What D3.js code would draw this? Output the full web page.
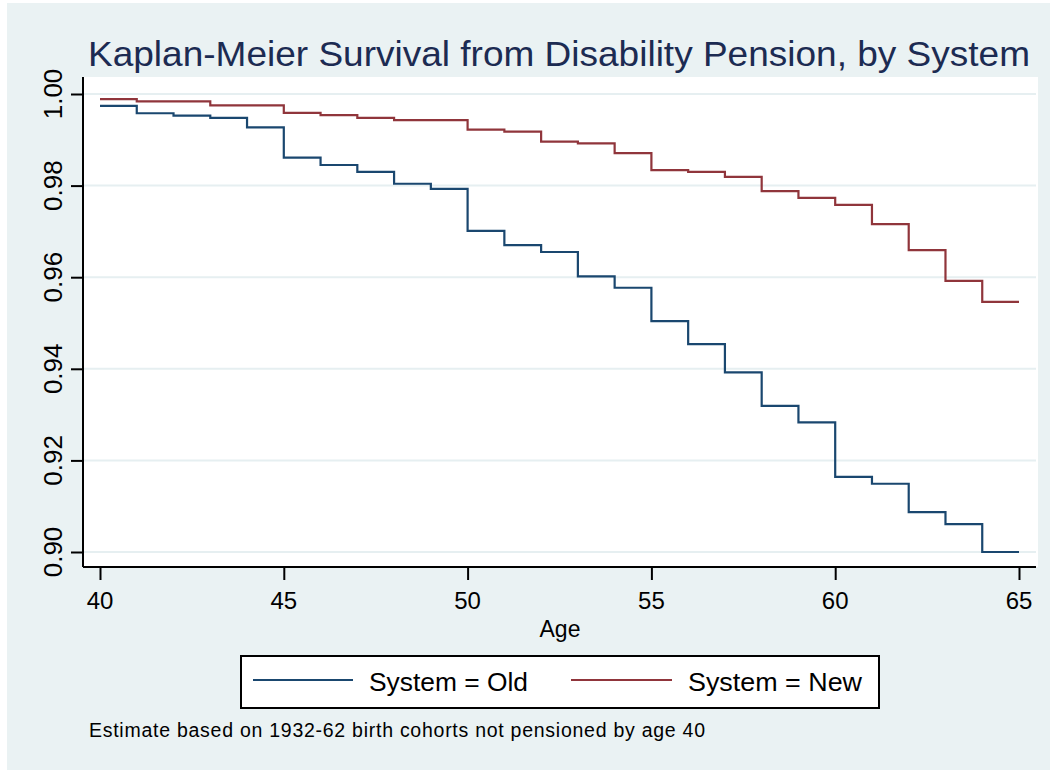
<!DOCTYPE html>
<html>
<head>
<meta charset="utf-8">
<script src="https://cdn.jsdelivr.net/npm/d3@7"></script>
<style>
  html, body { margin: 0; padding: 0; background: #ffffff; }
  svg { display: block; font-family: "Liberation Sans", Arial, sans-serif; }
</style>
</head>
<body>
<svg id="chart" width="1057" height="772"></svg>
<script>
// Age at the start of each one-year interval
const ages = [40, 41, 42, 43, 44, 45, 46, 47, 48, 49, 50, 51, 52,
              53, 54, 55, 56, 57, 58, 59, 60, 61, 62, 63, 64];
const endAge = 65;

// Kaplan-Meier survival estimate on each interval, old pension system
const survOld = [0.9974, 0.9958, 0.9953, 0.9948, 0.9927, 0.9861, 0.9845, 0.9830,
                 0.9804, 0.9793, 0.9701, 0.9670, 0.9655, 0.9602, 0.9577, 0.9504,
                 0.9454, 0.9392, 0.9319, 0.9283, 0.9164, 0.9149, 0.9087, 0.9061, 0.9000];

// Kaplan-Meier survival estimate on each interval, new pension system
const survNew = [0.9989, 0.9984, 0.9984, 0.9975, 0.9975, 0.9959, 0.9954, 0.9948,
                 0.9943, 0.9943, 0.9922, 0.9918, 0.9896, 0.9892, 0.9871, 0.9834,
                 0.9830, 0.9819, 0.9788, 0.9773, 0.9758, 0.9716, 0.9659, 0.9592, 0.9546];

const xTicks = [40, 45, 50, 55, 60, 65];
const yTicks = [0.90, 0.92, 0.94, 0.96, 0.98, 1.00];
const yTickLabels = ["0.90", "0.92", "0.94", "0.96", "0.98", "1.00"];

const seriesNames = ["System = Old", "System = New"];
const seriesColors = ["#1a476f", "#90353b"];

const titleText = "Kaplan-Meier Survival from Disability Pension, by System";
const xTitle = "Age";
const noteText = "Estimate based on 1932-62 birth cohorts not pensioned by age 40";

const svg = d3.select("#chart");

// Outer graph region
svg.append("rect")
  .attr("x", 7).attr("y", 3).attr("width", 1043).attr("height", 767)
  .attr("fill", "#eaf2f3");

// Plot region
const plot = { left: 83, right: 1038, top: 77, bottom: 567 };
svg.append("rect")
  .attr("x", plot.left).attr("y", plot.top)
  .attr("width", plot.right - plot.left).attr("height", plot.bottom - plot.top)
  .attr("fill", "#ffffff");

const x = d3.scaleLinear().domain([40, 65]).range([100, 1019]);
const y = d3.scaleLinear().domain([0.90, 1.00]).range([552, 94]);

// Horizontal grid lines
svg.append("g").selectAll("line").data(yTicks).join("line")
  .attr("x1", plot.left + 1).attr("x2", plot.right - 2)
  .attr("y1", d => y(d)).attr("y2", d => y(d))
  .attr("stroke", "#e6eff1").attr("stroke-width", 2);

// Survival step curves
const line = d3.line()
  .x(d => x(d[0])).y(d => y(d[1]))
  .curve(d3.curveStepAfter);

[survOld, survNew].forEach((s, i) => {
  const pts = ages.map((a, j) => [a, s[j]]);
  pts.push([endAge, s[s.length - 1]]);
  svg.append("path")
    .datum(pts)
    .attr("d", line)
    .attr("fill", "none")
    .attr("stroke", seriesColors[i])
    .attr("stroke-width", 2.2);
});

// Y axis
const yAxis = svg.append("g").attr("transform", `translate(${plot.left},0)`)
  .call(d3.axisLeft(y).tickValues(yTicks).tickSize(12).tickFormat(""));
yAxis.select(".domain").attr("d", `M0,${plot.top}V${plot.bottom}`)
  .attr("stroke", "#000").attr("stroke-width", 2);
yAxis.selectAll(".tick line").attr("stroke", "#000").attr("stroke-width", 2);

svg.append("g").selectAll("text").data(yTicks).join("text")
  .attr("transform", d => `translate(62,${y(d)}) rotate(-90)`)
  .attr("text-anchor", "middle")
  .attr("font-size", 26)
  .attr("fill", "#000")
  .text((d, i) => yTickLabels[i]);

// X axis
const xAxis = svg.append("g").attr("transform", `translate(0,${plot.bottom})`)
  .call(d3.axisBottom(x).tickValues(xTicks).tickSize(13).tickFormat(""));
xAxis.select(".domain").attr("d", `M${plot.left},0H${plot.right - 2}`)
  .attr("stroke", "#000").attr("stroke-width", 2);
xAxis.selectAll(".tick line").attr("stroke", "#000").attr("stroke-width", 2);

svg.append("g").selectAll("text").data(xTicks).join("text")
  .attr("x", d => x(d)).attr("y", 609)
  .attr("text-anchor", "middle")
  .attr("font-size", 24)
  .attr("fill", "#000")
  .text(d => d);

// Axis title
svg.append("text")
  .attr("x", 560).attr("y", 637)
  .attr("text-anchor", "middle")
  .attr("font-size", 23)
  .attr("fill", "#000")
  .text(xTitle);

// Title
svg.append("text")
  .attr("x", 88).attr("y", 66)
  .attr("font-size", 35)
  .attr("fill", "#1c2b52")
  .attr("textLength", 942)
  .attr("lengthAdjust", "spacingAndGlyphs")
  .text(titleText);

// Legend
const legend = svg.append("g");
legend.append("rect")
  .attr("x", 241).attr("y", 656).attr("width", 638).attr("height", 52)
  .attr("fill", "#ffffff").attr("stroke", "#000").attr("stroke-width", 2);

const legendItems = [
  { x1: 253, x2: 353, tx: 369, w: 159 },
  { x1: 571, x2: 672, tx: 688, w: 174 }
];
legendItems.forEach((it, i) => {
  legend.append("line")
    .attr("x1", it.x1).attr("x2", it.x2).attr("y1", 680).attr("y2", 680)
    .attr("stroke", seriesColors[i]).attr("stroke-width", 2.2);
  legend.append("text")
    .attr("x", it.tx).attr("y", 691)
    .attr("font-size", 25)
    .attr("fill", "#000")
    .attr("textLength", it.w)
    .attr("lengthAdjust", "spacingAndGlyphs")
    .text(seriesNames[i]);
});

// Note
svg.append("text")
  .attr("x", 89).attr("y", 737)
  .attr("font-size", 19.5)
  .attr("fill", "#000")
  .attr("textLength", 616)
  .attr("lengthAdjust", "spacing")
  .text(noteText);
</script>
</body>
</html>
